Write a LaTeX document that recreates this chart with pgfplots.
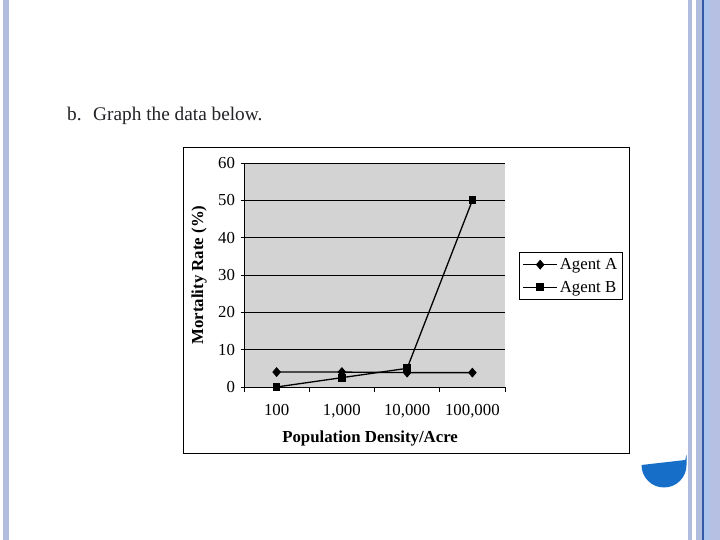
\documentclass[border=0pt]{standalone}
\usepackage{fontspec}
\setmainfont{Liberation Serif}
\usepackage{pgfplots}
\usepackage{pgfplotstable}
\pgfplotsset{compat=1.18}
\definecolor{stripe}{RGB}{176,189,222}
\definecolor{stripeb}{RGB}{172,196,236}
\definecolor{stripec}{RGB}{182,192,226}
\definecolor{darkline}{RGB}{50,88,168}
\definecolor{bluecirc}{RGB}{22,110,200}
\definecolor{plotgray}{RGB}{211,211,211}
\definecolor{titlegray}{RGB}{35,35,40}
\pgfplotstableread{
x a b
0 4.0 0
1 4.0 2.5
2 3.85 5
3 3.85 50
}\datatable
\begin{document}
\begin{tikzpicture}[x=1pt,y=1pt]
\fill[white] (0,0) rectangle (720,540);
\fill[stripe] (3,0) rectangle (9,540);
\fill[stripe] (688,0) rectangle (692,540);
\fill[stripe] (696,0) rectangle (702,540);
\fill[darkline] (702,0) rectangle (703.5,540);
\fill[stripeb] (703.5,0) rectangle (710,540);
\fill[stripec] (710,0) rectangle (720,540);
\fill[bluecirc] (641.5,75) arc[start angle=180,end angle=360,radius=22.5] -- (686.5,85) -- (685.2,80) -- cycle;
\node[anchor=base west, inner sep=0pt, text=titlegray, font=\fontsize{19.3}{23}\selectfont] at (67,419) {b.};
\node[anchor=base west, inner sep=0pt, text=titlegray, font=\fontsize{19.3}{23}\selectfont] at (93,419) {Graph the data below.};
\draw[line width=0.9pt] (183,87) rectangle (629,393);
\begin{axis}[
  at={(244pt,153pt)}, anchor=south west,
  scale only axis, width=261pt, height=224pt,
  xmin=-0.5, xmax=3.5, ymin=0, ymax=60,
  axis x line=bottom, axis y line=left,
  axis line style={-, black, line width=0.9pt},
  axis background/.style={fill=plotgray},
  clip=false,
  font=\fontsize{16.8}{19}\selectfont,
  /pgf/number format/assume math mode=true,
  ytick={0,10,...,60},
  ymajorgrids, major grid style={black, line width=0.9pt},
  xtick={0,1,2,3}, xticklabels={100,{1,000},{10,000},{100,000}},
  minor xtick={-0.5,0.5,1.5,2.5,3.5},
  tick align=outside,
  major x tick style={draw=none},
  minor x tick style={black, line width=0.9pt},
  major y tick style={black, line width=0.9pt},
  major tick length=3.5pt, minor tick length=5pt,
  xticklabel style={yshift=-10pt},
  yticklabel style={xshift=-2pt},
  ylabel={\textbf{Mortality Rate (\%)}},
  ylabel style={at={(axis description cs:-0.172,0.5)}, anchor=center},
  xlabel={\textbf{Population Density/Acre}},
  xlabel style={at={(axis description cs:0.483,-0.228)}, anchor=center},
  legend style={at={(1.054,0.603)}, anchor=north west, draw=black, line width=0.9pt,
    fill=white, font=\fontsize{16.8}{19}\selectfont, inner xsep=3pt, inner ysep=4pt,
    row sep=6pt, /tikz/every even column/.append style={column sep=2pt}},
  legend cell align=left,
  legend image code/.code={\draw[mark repeat=2,mark phase=2,#1] plot coordinates {(0pt,0pt) (17pt,0pt) (34pt,0pt)};},
]
\addplot[draw=black, line width=1.3pt, mark=diamond*, mark size=4pt, mark options={solid, fill=black, xscale=1.15}] table[x=x, y=a] {\datatable};
\addplot[draw=black, line width=1.3pt, mark=square*, mark size=3.2pt, mark options={solid, fill=black}] table[x=x, y=b] {\datatable};
\legend{Agent A, Agent B}
\end{axis}
\end{tikzpicture}
\end{document}
